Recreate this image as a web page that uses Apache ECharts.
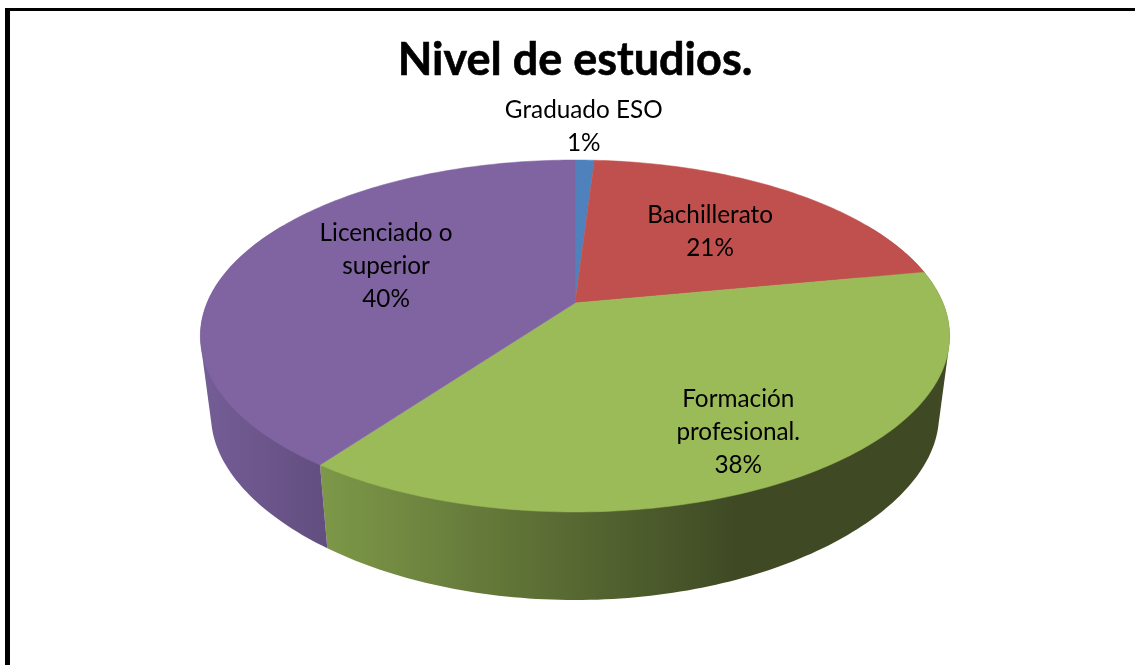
<!DOCTYPE html>
<html>
<head>
<meta charset="utf-8">
<title>Nivel de estudios.</title>
<style>
  html, body { margin: 0; padding: 0; background: #fff; }
  #chart { width: 1135px; height: 665px; }
</style>
<script src="https://cdn.jsdelivr.net/npm/echarts@6/dist/echarts.min.js"></script>
</head>
<body>
<div id="chart"></div>
<script>
const categories = ['Graduado ESO', 'Bachillerato', 'Formación\nprofesional.', 'Licenciado o\nsuperior']
const values = [1, 21, 38, 40]
const total = values.reduce((a, b) => a + b, 0)

const topColors = ['#4F81BD', '#C0504D', '#9BBB59', '#8064A2']
const sideColors = [
  ['#3f6797', '#3f6797'],
  ['#9a403e', '#9a403e'],
  ['#7d9848', '#3f4a24'],
  ['#755d96', '#624e7f']
]
// x range of each slice's side shading
const sideShade = [[0, 1], [0, 1], [322, 735], [200, 327]]
// label anchor on the slice's mid angle (fraction of radius), then a nudge in px
const labelR = [1, 0.7, 0.7, 0.6]
const labelNudge = [[-1, -33.5], [-20, 10], [8, 16], [14, -6.5]]

// perspective projection of the unit circle: near edge is drawn bigger than the far edge
const topFace = { cx: 575, cy: 303, a: 368, b: 169.8, kx: 0.1875, ky: 0.1875 }
const bottomFace = { cx: 575, cy: 383.75, a: 357.5, b: 162.2, kx: 0.1875, ky: 0.25 }
const sideFrom = 60
const sideTo = 300

function project (face, deg, r) {
  const t = deg * Math.PI / 180
  const u = Math.sin(t) * r
  const v = Math.cos(t) * r
  return [face.cx + face.a * u / (1 + face.kx * v), face.cy - face.b * v / (1 + face.ky * v)]
}

function arc (face, from, to) {
  const pts = []
  const n = Math.max(2, Math.ceil(Math.abs(to - from)))
  for (let i = 0; i <= n; i++) {
    pts.push(project(face, from + (to - from) * i / n, 1))
  }
  return pts
}

// the wall's outline runs along the tangents between both faces, so take the hull
function hull (points) {
  const pts = points.slice().sort((p, q) => p[0] - q[0] || p[1] - q[1])
  const cross = (o, p, q) => (p[0] - o[0]) * (q[1] - o[1]) - (p[1] - o[1]) * (q[0] - o[0])
  const half = list => {
    const out = []
    list.forEach(p => {
      while (out.length > 1 && cross(out[out.length - 2], out[out.length - 1], p) <= 0) out.pop()
      out.push(p)
    })
    out.pop()
    return out
  }
  return half(pts).concat(half(pts.slice().reverse()))
}

function renderSlice (params, api) {
  const i = params.dataIndex
  const before = values.slice(0, i).reduce((a, b) => a + b, 0)
  const from = before / total * 360
  const to = (before + api.value(0)) / total * 360
  const mid = (from + to) / 2
  const children = []

  const a = Math.max(from, sideFrom)
  const b = Math.min(to, sideTo)
  if (b > a) {
    children.push({
      type: 'polygon',
      z2: 1,
      shape: { points: hull(arc(topFace, a, b).concat(arc(bottomFace, a, b))) },
      style: {
        fill: new echarts.graphic.LinearGradient(sideShade[i][0], 0, sideShade[i][1], 0, [
          { offset: 0, color: sideColors[i][0] },
          { offset: 1, color: sideColors[i][1] }
        ], true)
      }
    })
  }

  children.push({
    type: 'polygon',
    z2: 2,
    shape: { points: [[topFace.cx, topFace.cy]].concat(arc(topFace, from, to)) },
    style: { fill: topColors[i], stroke: topColors[i], lineWidth: 0.5 }
  })

  const p = project(topFace, mid, labelR[i])
  children.push({
    type: 'text',
    z2: 3,
    style: {
      x: p[0] + labelNudge[i][0],
      y: p[1] + labelNudge[i][1],
      text: categories[i] + '\n' + Math.round(api.value(0) / total * 100) + '%',
      font: '24.3px Lato',
      lineHeight: 33,
      fill: '#000',
      align: 'center',
      verticalAlign: 'middle'
    }
  })
  return { type: 'group', children: children }
}

const chart = echarts.init(document.getElementById('chart'))
chart.setOption({
  animation: false,
  backgroundColor: '#fff',
  title: {
    text: 'Nivel de estudios.',
    left: 570,
    top: 33,
    textAlign: 'center',
    textStyle: { fontFamily: 'Lato', fontWeight: 'bold', fontSize: 45, color: '#000', textBorderColor: '#000', textBorderWidth: 0.6 }
  },
  graphic: [
    { type: 'rect', shape: { x: 5, y: 8, width: 5, height: 657 }, style: { fill: '#000' } },
    { type: 'rect', shape: { x: 5, y: 8, width: 1130, height: 3 }, style: { fill: '#000' } }
  ],
  series: [{
    type: 'custom',
    coordinateSystem: 'none',
    renderItem: renderSlice,
    data: values.map((v, i) => ({ name: categories[i], value: [v] }))
  }]
})
</script>
</body>
</html>
